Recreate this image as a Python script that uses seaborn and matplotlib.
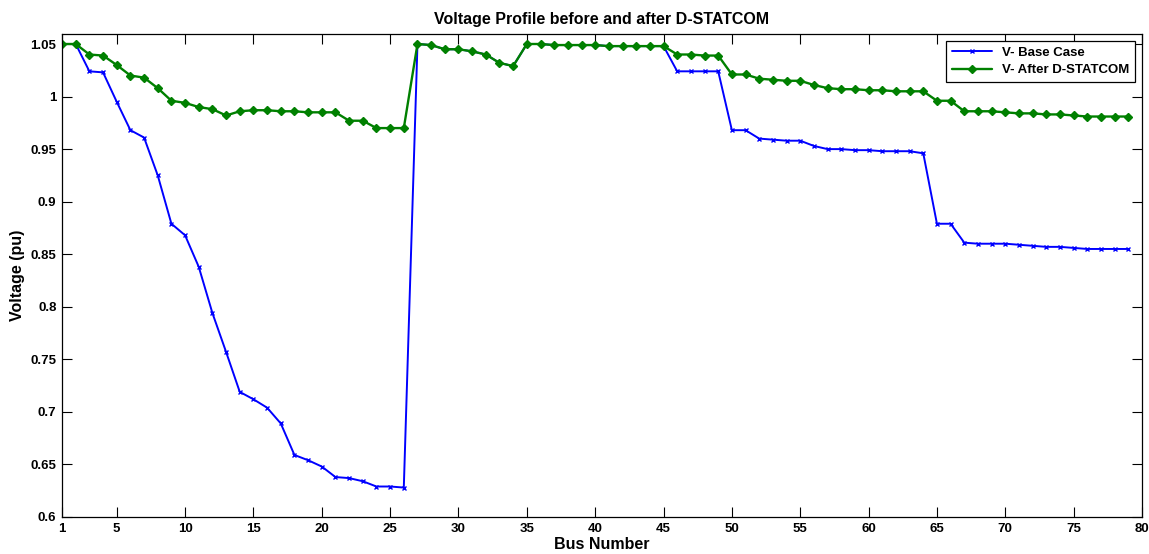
import numpy as np
import pandas as pd
import matplotlib
matplotlib.use("Agg")
import matplotlib.pyplot as plt
import seaborn as sns

# --- data ---
bus = list(range(1, 80))

v_base = [1.050, 1.050, 1.024, 1.023, 0.995, 0.968, 0.961, 0.925, 0.879, 0.868,
          0.838, 0.794, 0.757, 0.719, 0.712, 0.704, 0.689, 0.659, 0.654, 0.648,
          0.638, 0.637, 0.634, 0.629, 0.629, 0.628,
          1.050, 1.049, 1.045, 1.045, 1.043, 1.040, 1.032, 1.029, 1.050, 1.050,
          1.049, 1.049, 1.049, 1.049, 1.048, 1.048, 1.048, 1.048, 1.048,
          1.024, 1.024, 1.024, 1.024,
          0.968, 0.968, 0.960, 0.959, 0.958, 0.958, 0.953, 0.950, 0.950, 0.949,
          0.949, 0.948, 0.948, 0.948, 0.946,
          0.879, 0.879, 0.861, 0.860, 0.860, 0.860, 0.859, 0.858, 0.857, 0.857,
          0.856, 0.855, 0.855, 0.855, 0.855]

v_statcom = [1.050, 1.050, 1.040, 1.039, 1.030, 1.020, 1.018, 1.008, 0.996, 0.994,
             0.990, 0.988, 0.982, 0.986, 0.987, 0.987, 0.986, 0.986, 0.985, 0.985,
             0.985, 0.977, 0.977, 0.970, 0.970, 0.970,
             1.050, 1.049, 1.045, 1.045, 1.043, 1.040, 1.032, 1.029, 1.050, 1.050,
             1.049, 1.049, 1.049, 1.049, 1.048, 1.048, 1.048, 1.048, 1.048,
             1.040, 1.040, 1.039, 1.039,
             1.021, 1.021, 1.017, 1.016, 1.015, 1.015, 1.011, 1.008, 1.007, 1.007,
             1.006, 1.006, 1.005, 1.005, 1.005,
             0.996, 0.996, 0.986, 0.986, 0.986, 0.985, 0.984, 0.984, 0.983, 0.983,
             0.982, 0.981, 0.981, 0.981, 0.981]

x_ticks = [1, 5, 10, 15, 20, 25, 30, 35, 40, 45, 50, 55, 60, 65, 70, 75, 80]
y_ticks = [0.6, 0.65, 0.7, 0.75, 0.8, 0.85, 0.9, 0.95, 1.0, 1.05]
y_tick_labels = ['0.6', '0.65', '0.7', '0.75', '0.8', '0.85', '0.9', '0.95', '1', '1.05']

df = pd.DataFrame({'Bus': bus, 'Base': v_base, 'Statcom': v_statcom})

# --- style ---
sns.set_style("ticks")
plt.rcParams['font.family'] = ['Liberation Sans', 'DejaVu Sans']
plt.rcParams['font.weight'] = 'bold'
plt.rcParams['text.color'] = 'black'
plt.rcParams['axes.labelcolor'] = 'black'
plt.rcParams['xtick.color'] = 'black'
plt.rcParams['ytick.color'] = 'black'

fig = plt.figure(figsize=(11.49, 5.54), dpi=100)
ax = fig.add_axes([0.054, 0.0668, 0.9399, 0.8718])

# base case first, green on top (it hides blue where the two coincide)
sns.lineplot(data=df, x='Bus', y='Base', ax=ax, color='#0000FF', linewidth=1.4,
             marker='x', markersize=3, markeredgewidth=1.0,
             markeredgecolor='#0000FF', label='V- Base Case')
sns.lineplot(data=df, x='Bus', y='Statcom', ax=ax, color='#008000', linewidth=1.7,
             marker='D', markersize=4.3, markeredgecolor='#008000',
             markeredgewidth=1.0, label='V- After D-STATCOM')

ax.set_xlim(1, 80)
ax.set_ylim(0.6, 1.0595)
ax.set_xticks(x_ticks)
ax.set_yticks(y_ticks)
ax.set_yticklabels(y_tick_labels)

ax.tick_params(direction='in', length=7.5, width=0.8, top=True, right=True,
               labelsize=9.5, pad=4)
for lab in ax.get_xticklabels() + ax.get_yticklabels():
    lab.set_fontweight('bold')
for sp in ax.spines.values():
    sp.set_visible(True)
    sp.set_color('black')
    sp.set_linewidth(0.9)

ax.set_title('Voltage Profile before and after D-STATCOM', fontsize=11.5,
             fontweight='bold', pad=7)
ax.set_xlabel('Bus Number', fontsize=11.5, fontweight='bold', labelpad=2)
ax.set_ylabel('Voltage (pu)', fontsize=11.5, fontweight='bold', labelpad=4)

leg = ax.legend(loc='upper right', fontsize=9.5, frameon=True, fancybox=False,
                edgecolor='black', framealpha=1, handlelength=3.0,
                borderaxespad=0.5, borderpad=0.45, labelspacing=0.4)
leg.get_frame().set_linewidth(0.9)
for t in leg.get_texts():
    t.set_fontweight('bold')

fig.savefig('out.png', dpi=100, facecolor='white')
